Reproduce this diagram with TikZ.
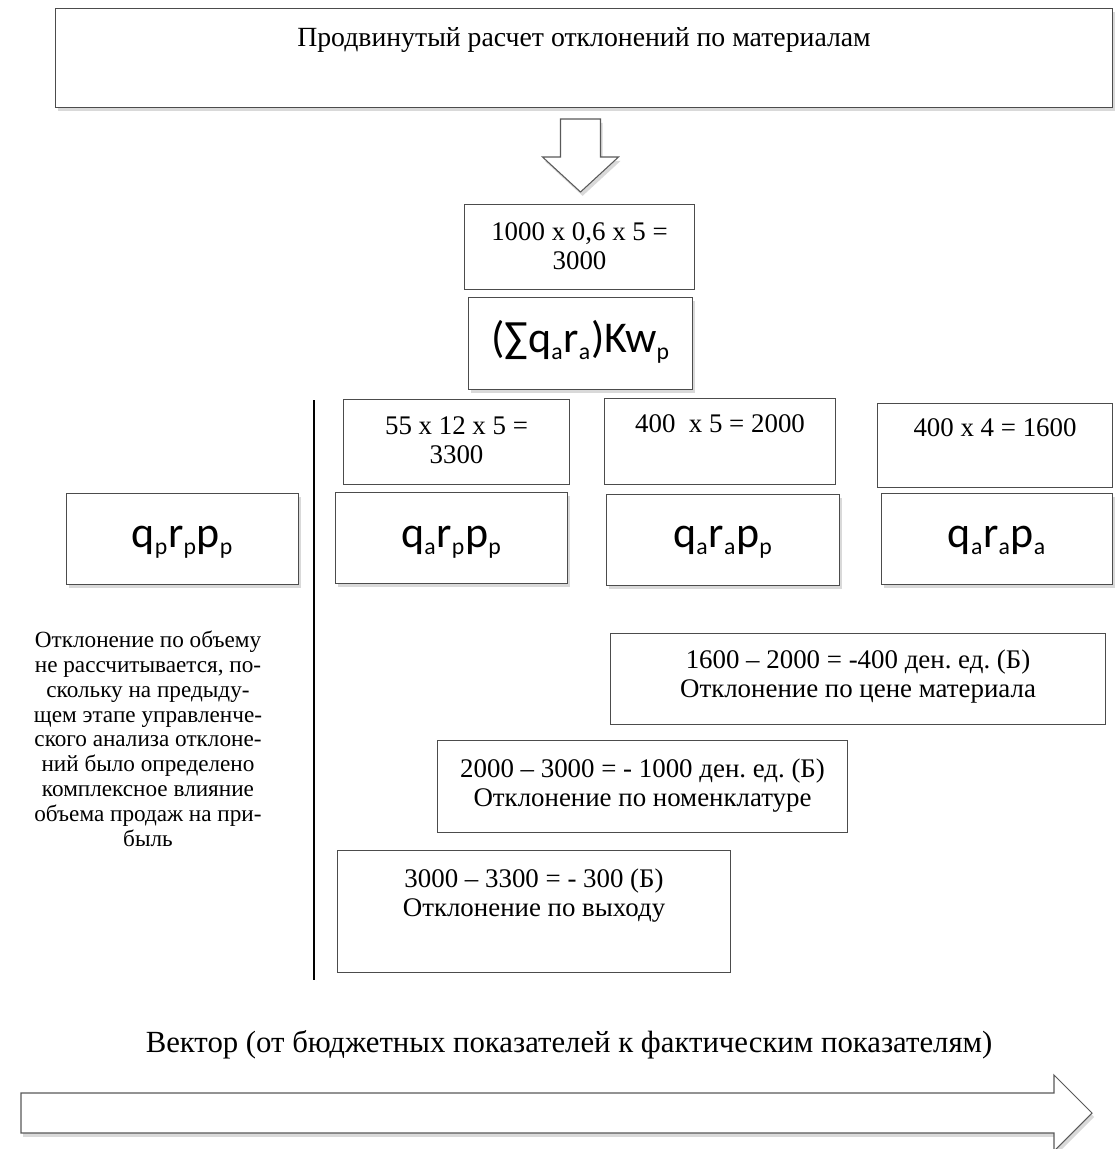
\documentclass[tikz,border=0pt]{standalone}
\usepackage{fontspec}
\setmainfont{Liberation Serif}
\newfontfamily\formulafont{Carlito}
\newcommand\lowsub[1]{\textsubscript{\fontsize{13.5}{13.5}\selectfont #1}}
\frenchspacing
\usetikzlibrary{shadows}

\begin{document}
\begin{tikzpicture}[line width=0.6pt]


\tikzstyle{box} = [
    rectangle, draw=black!70, fill=white, inner sep=0pt, align=flush center, anchor=north west,
    font=\fontsize{15.3}{16.5}\selectfont]

\tikzstyle{shadowbox} = [
    box, drop shadow={shadow xshift=1.2pt, shadow yshift=-2.2pt, opacity=0.3}]

\tikzstyle{formula} = [
    shadowbox, font=\formulafont\fontsize{25}{29}\selectfont]

\tikzstyle{blockarrow} = [
    draw=black!65, fill=white, line join=miter, drop shadow={shadow xshift=1.2pt, shadow yshift=-2.2pt, opacity=0.3}]

\useasboundingbox (0,0) rectangle (22.28,-22.98);


\node[shadowbox, text width=21.14cm, text height=0.76cm, text depth=1.22cm, font=\fontsize{15.8}{19}\selectfont] at (1.10,-0.16) (title) {Продвинутый расчет отклонений по материалам};

\draw[blockarrow] (11.21,-2.38) -- (12.01,-2.38) -- (12.01,-3.14) -- (12.37,-3.14) -- (11.61,-3.84) -- (10.85,-3.14) -- (11.21,-3.14) -- cycle;

\node[box, text width=4.60cm, text height=0.72cm, text depth=0.98cm] at (9.28,-4.08) (calcbase) {1000 x 0,6 x 5 =\\3000};

\node[formula, text width=4.48cm, text height=1.10cm, text depth=0.74cm] at (9.36,-5.94) (formbase) {(∑q\lowsub{a}r\lowsub{a})Kw\lowsub{p}};


\node[box, text width=4.52cm, text height=0.70cm, text depth=1.00cm] at (6.86,-7.98) (calcyield) {55 x 12 x 5 =\\3300};

\node[box, text width=4.62cm, text height=0.68cm, text depth=1.04cm] at (12.08,-7.96) (calcmix) {400\ \ x 5 = 2000};

\node[box, text width=4.70cm, text height=0.66cm, text depth=1.02cm] at (17.54,-8.06) (calcprice) {400 x 4 = 1600};


\node[formula, text width=4.64cm, text height=1.08cm, text depth=0.74cm] at (1.32,-9.86) (formbudget) {q\lowsub{p}r\lowsub{p}p\lowsub{p}};

\node[formula, text width=4.64cm, text height=1.10cm, text depth=0.72cm] at (6.70,-9.84) (formyield) {q\lowsub{a}r\lowsub{p}p\lowsub{p}};

\node[formula, text width=4.66cm, text height=1.06cm, text depth=0.76cm] at (12.12,-9.88) (formmix) {q\lowsub{a}r\lowsub{a}p\lowsub{p}};

\node[formula, text width=4.62cm, text height=1.08cm, text depth=0.74cm] at (17.62,-9.86) (formprice) {q\lowsub{a}r\lowsub{a}p\lowsub{a}};


\draw[line width=1.2pt, drop shadow={shadow xshift=1.5pt, shadow yshift=-1pt, opacity=0.15}] (6.28,-8.0) -- (6.28,-19.6);

\node[align=center, anchor=north, inner sep=0pt, font=\fontsize{13.2}{14.2}\selectfont] at (2.96,-12.6) (note) {Отклонение по объему\\не рассчитывается, по-\\скольку на предыду-\\щем этапе управленче-\\ского анализа отклоне-\\ний было определено\\комплексное влияние\\объема продаж на при-\\быль};


\node[box, text width=9.90cm, text height=0.70cm, text depth=1.12cm] at (12.20,-12.66) (devprice) {1600 – 2000 = -400 ден. ед. (Б)\\Отклонение по цене материала};

\node[box, text width=8.20cm, text height=0.74cm, text depth=1.10cm] at (8.74,-14.80) (devmix) {2000 – 3000 = - 1000 ден. ед. (Б)\\Отклонение по номенклатуре};

\node[box, text width=7.86cm, text height=0.74cm, text depth=1.70cm] at (6.74,-17.00) (devyield) {3000 – 3300 = - 300 (Б)\\Отклонение по выходу};


\node[font=\fontsize{17.5}{20}\selectfont] at (11.38,-20.9) (vector) {Вектор (от бюджетных показателей к фактическим показателям)};

\draw[blockarrow] (0.42,-21.86) -- (21.08,-21.86) -- (21.08,-21.50) -- (21.84,-22.26) -- (21.08,-23.02) -- (21.08,-22.66) -- (0.42,-22.66) -- cycle;


\end{tikzpicture}
\end{document}
